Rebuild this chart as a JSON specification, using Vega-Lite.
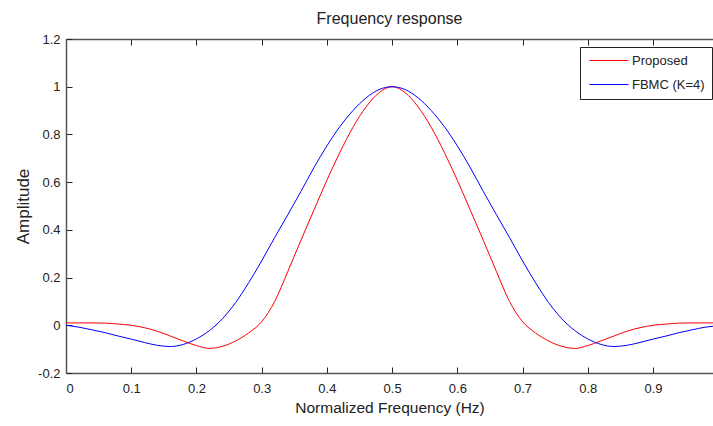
{
  "$schema": "https://vega.github.io/schema/vega-lite/v6.json",
  "width": 647,
  "height": 334,
  "autosize": {"type": "none"},
  "padding": {"left": 66, "top": 39, "right": 0, "bottom": 53},
  "background": "white",
  "title": {"text": "Frequency response", "font": "Liberation Sans", "fontSize": 16, "fontWeight": "normal", "color": "#222", "offset": 6, "anchor": "middle"},
  "config": {"view": {"stroke": null}},
  "data": {"values": [
    {"f": 0.00, "amp": 0.010, "s": "Proposed"},
    {"f": 0.02, "amp": 0.010, "s": "Proposed"},
    {"f": 0.04, "amp": 0.010, "s": "Proposed"},
    {"f": 0.06, "amp": 0.009, "s": "Proposed"},
    {"f": 0.08, "amp": 0.005, "s": "Proposed"},
    {"f": 0.10, "amp": 0.000, "s": "Proposed"},
    {"f": 0.12, "amp": -0.010, "s": "Proposed"},
    {"f": 0.14, "amp": -0.025, "s": "Proposed"},
    {"f": 0.16, "amp": -0.045, "s": "Proposed"},
    {"f": 0.18, "amp": -0.066, "s": "Proposed"},
    {"f": 0.20, "amp": -0.085, "s": "Proposed"},
    {"f": 0.22, "amp": -0.097, "s": "Proposed"},
    {"f": 0.24, "amp": -0.088, "s": "Proposed"},
    {"f": 0.26, "amp": -0.066, "s": "Proposed"},
    {"f": 0.28, "amp": -0.032, "s": "Proposed"},
    {"f": 0.30, "amp": 0.015, "s": "Proposed"},
    {"f": 0.32, "amp": 0.100, "s": "Proposed"},
    {"f": 0.34, "amp": 0.225, "s": "Proposed"},
    {"f": 0.36, "amp": 0.355, "s": "Proposed"},
    {"f": 0.38, "amp": 0.482, "s": "Proposed"},
    {"f": 0.40, "amp": 0.608, "s": "Proposed"},
    {"f": 0.42, "amp": 0.725, "s": "Proposed"},
    {"f": 0.44, "amp": 0.830, "s": "Proposed"},
    {"f": 0.46, "amp": 0.915, "s": "Proposed"},
    {"f": 0.48, "amp": 0.975, "s": "Proposed"},
    {"f": 0.50, "amp": 1.000, "s": "Proposed"},
    {"f": 0.52, "amp": 0.975, "s": "Proposed"},
    {"f": 0.54, "amp": 0.915, "s": "Proposed"},
    {"f": 0.56, "amp": 0.830, "s": "Proposed"},
    {"f": 0.58, "amp": 0.725, "s": "Proposed"},
    {"f": 0.60, "amp": 0.608, "s": "Proposed"},
    {"f": 0.62, "amp": 0.482, "s": "Proposed"},
    {"f": 0.64, "amp": 0.355, "s": "Proposed"},
    {"f": 0.66, "amp": 0.225, "s": "Proposed"},
    {"f": 0.68, "amp": 0.100, "s": "Proposed"},
    {"f": 0.70, "amp": 0.015, "s": "Proposed"},
    {"f": 0.72, "amp": -0.032, "s": "Proposed"},
    {"f": 0.74, "amp": -0.066, "s": "Proposed"},
    {"f": 0.76, "amp": -0.088, "s": "Proposed"},
    {"f": 0.78, "amp": -0.097, "s": "Proposed"},
    {"f": 0.80, "amp": -0.085, "s": "Proposed"},
    {"f": 0.82, "amp": -0.066, "s": "Proposed"},
    {"f": 0.84, "amp": -0.045, "s": "Proposed"},
    {"f": 0.86, "amp": -0.025, "s": "Proposed"},
    {"f": 0.88, "amp": -0.010, "s": "Proposed"},
    {"f": 0.90, "amp": 0.000, "s": "Proposed"},
    {"f": 0.92, "amp": 0.005, "s": "Proposed"},
    {"f": 0.94, "amp": 0.009, "s": "Proposed"},
    {"f": 0.96, "amp": 0.010, "s": "Proposed"},
    {"f": 0.98, "amp": 0.010, "s": "Proposed"},
    {"f": 0.992, "amp": 0.010, "s": "Proposed"},
    {"f": 0.00, "amp": 0.000, "s": "FBMC (K=4)"},
    {"f": 0.02, "amp": -0.008, "s": "FBMC (K=4)"},
    {"f": 0.04, "amp": -0.019, "s": "FBMC (K=4)"},
    {"f": 0.06, "amp": -0.031, "s": "FBMC (K=4)"},
    {"f": 0.08, "amp": -0.045, "s": "FBMC (K=4)"},
    {"f": 0.10, "amp": -0.058, "s": "FBMC (K=4)"},
    {"f": 0.12, "amp": -0.072, "s": "FBMC (K=4)"},
    {"f": 0.14, "amp": -0.084, "s": "FBMC (K=4)"},
    {"f": 0.16, "amp": -0.089, "s": "FBMC (K=4)"},
    {"f": 0.18, "amp": -0.080, "s": "FBMC (K=4)"},
    {"f": 0.20, "amp": -0.057, "s": "FBMC (K=4)"},
    {"f": 0.22, "amp": -0.022, "s": "FBMC (K=4)"},
    {"f": 0.24, "amp": 0.028, "s": "FBMC (K=4)"},
    {"f": 0.26, "amp": 0.095, "s": "FBMC (K=4)"},
    {"f": 0.28, "amp": 0.178, "s": "FBMC (K=4)"},
    {"f": 0.30, "amp": 0.270, "s": "FBMC (K=4)"},
    {"f": 0.32, "amp": 0.368, "s": "FBMC (K=4)"},
    {"f": 0.34, "amp": 0.463, "s": "FBMC (K=4)"},
    {"f": 0.36, "amp": 0.560, "s": "FBMC (K=4)"},
    {"f": 0.38, "amp": 0.660, "s": "FBMC (K=4)"},
    {"f": 0.40, "amp": 0.752, "s": "FBMC (K=4)"},
    {"f": 0.42, "amp": 0.833, "s": "FBMC (K=4)"},
    {"f": 0.44, "amp": 0.900, "s": "FBMC (K=4)"},
    {"f": 0.46, "amp": 0.953, "s": "FBMC (K=4)"},
    {"f": 0.48, "amp": 0.988, "s": "FBMC (K=4)"},
    {"f": 0.50, "amp": 1.000, "s": "FBMC (K=4)"},
    {"f": 0.52, "amp": 0.988, "s": "FBMC (K=4)"},
    {"f": 0.54, "amp": 0.953, "s": "FBMC (K=4)"},
    {"f": 0.56, "amp": 0.900, "s": "FBMC (K=4)"},
    {"f": 0.58, "amp": 0.833, "s": "FBMC (K=4)"},
    {"f": 0.60, "amp": 0.752, "s": "FBMC (K=4)"},
    {"f": 0.62, "amp": 0.660, "s": "FBMC (K=4)"},
    {"f": 0.64, "amp": 0.560, "s": "FBMC (K=4)"},
    {"f": 0.66, "amp": 0.463, "s": "FBMC (K=4)"},
    {"f": 0.68, "amp": 0.368, "s": "FBMC (K=4)"},
    {"f": 0.70, "amp": 0.270, "s": "FBMC (K=4)"},
    {"f": 0.72, "amp": 0.178, "s": "FBMC (K=4)"},
    {"f": 0.74, "amp": 0.095, "s": "FBMC (K=4)"},
    {"f": 0.76, "amp": 0.028, "s": "FBMC (K=4)"},
    {"f": 0.78, "amp": -0.022, "s": "FBMC (K=4)"},
    {"f": 0.80, "amp": -0.057, "s": "FBMC (K=4)"},
    {"f": 0.82, "amp": -0.080, "s": "FBMC (K=4)"},
    {"f": 0.84, "amp": -0.089, "s": "FBMC (K=4)"},
    {"f": 0.86, "amp": -0.084, "s": "FBMC (K=4)"},
    {"f": 0.88, "amp": -0.072, "s": "FBMC (K=4)"},
    {"f": 0.90, "amp": -0.058, "s": "FBMC (K=4)"},
    {"f": 0.92, "amp": -0.045, "s": "FBMC (K=4)"},
    {"f": 0.94, "amp": -0.031, "s": "FBMC (K=4)"},
    {"f": 0.96, "amp": -0.019, "s": "FBMC (K=4)"},
    {"f": 0.98, "amp": -0.008, "s": "FBMC (K=4)"},
    {"f": 0.992, "amp": -0.004, "s": "FBMC (K=4)"}
  ]},
  "layer": [
    {
      "mark": {"type": "line", "strokeWidth": 1, "interpolate": "monotone", "clip": true},
      "encoding": {
        "x": {"field": "f", "type": "quantitative",
          "scale": {"domain": [0, 0.992], "nice": false, "zero": false},
          "axis": {"orient": "bottom", "values": [0, 0.1, 0.2, 0.3, 0.4, 0.5, 0.6, 0.7, 0.8, 0.9],
            "labelExpr": "datum.value + ''", "grid": false,
            "domainColor": "#555", "domainWidth": 1.5, "tickColor": "#222", "tickSize": -6, "tickWidth": 1,
            "labelPadding": 15, "labelFont": "Liberation Sans", "labelFontSize": 13, "labelColor": "#222",
            "title": "Normalized Frequency (Hz)", "titleFont": "Liberation Sans", "titleFontSize": 15.5,
            "titleFontWeight": "normal", "titleColor": "#222", "titlePadding": 5}},
        "y": {"field": "amp", "type": "quantitative",
          "scale": {"domain": [-0.2, 1.2], "nice": false, "zero": false},
          "axis": {"values": [-0.2, 0, 0.2, 0.4, 0.6, 0.8, 1, 1.2], "labelExpr": "datum.value + ''", "grid": false,
            "domainColor": "#555", "domainWidth": 1.5, "tickColor": "#222", "tickSize": -6, "tickWidth": 1,
            "labelPadding": 12, "labelFont": "Liberation Sans", "labelFontSize": 13, "labelColor": "#222",
            "title": "Amplitude", "titleFont": "Liberation Sans", "titleFontSize": 17, "titleFontWeight": "normal",
            "titleColor": "#222", "titlePadding": 5}},
        "color": {"field": "s", "type": "nominal",
          "scale": {"domain": ["Proposed", "FBMC (K=4)"], "range": ["#ff0000", "#0000ff"]},
          "legend": {"orient": "none", "legendX": 514, "legendY": 8, "title": null, "symbolType": "M-0.82,0H7.18",
            "symbolSize": 95, "symbolStrokeWidth": 1, "strokeColor": "#222", "fillColor": "white", "padding": 7,
            "rowPadding": 10, "labelFont": "Liberation Sans", "labelFontSize": 13,
            "labelOffset": 32, "labelColor": "#222", "cornerRadius": 0,
            "encode": {"symbols": {"update": {"stroke": {"scale": "color", "field": "value"}, "fill": {"value": "transparent"}, "opacity": {"value": 1}}}}}}
      }
    },
    {
      "mark": {"type": "line", "opacity": 0},
      "encoding": {
        "x": {"field": "f", "type": "quantitative",
          "scale": {"domain": [0, 0.992], "nice": false, "zero": false},
          "axis": {"orient": "top", "values": [0, 0.1, 0.2, 0.3, 0.4, 0.5, 0.6, 0.7, 0.8, 0.9], "labels": false,
            "title": null, "grid": false, "domainColor": "#555", "domainWidth": 1.5, "tickColor": "#222",
            "tickSize": -6, "tickWidth": 1}},
        "y": {"field": "amp", "type": "quantitative"},
        "detail": {"field": "s", "type": "nominal"}
      }
    }
  ],
  "resolve": {"axis": {"x": "independent"}}
}
